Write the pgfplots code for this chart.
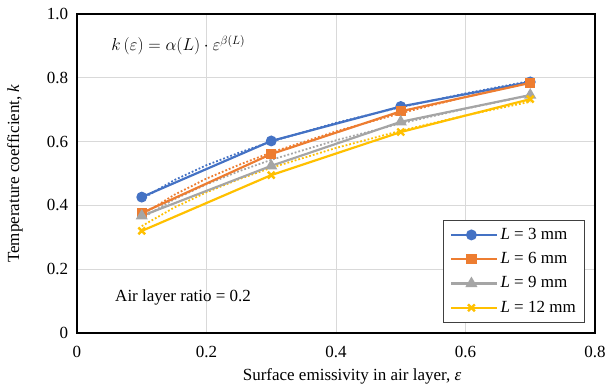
\documentclass[border=0pt]{standalone}
\usepackage{pgfplots}
\pgfplotsset{compat=1.18}
\usepackage{fontspec}
\setmainfont{Liberation Serif}
\definecolor{cblue}{HTML}{4472C4}
\definecolor{corange}{HTML}{ED7D31}
\definecolor{cgray}{HTML}{A5A5A5}
\definecolor{cyellow}{HTML}{FFC000}
\begin{document}
\fontsize{17bp}{20bp}\selectfont
\begin{tikzpicture}
\useasboundingbox (-77bp,-51bp) rectangle (528bp,333bp);
\begin{axis}[
  at={(0bp,0bp)}, anchor=south west,
  scale only axis, width=518bp, height=319bp,
  xmin=0, xmax=0.8, ymin=0, ymax=1,
  xtick={0,0.2,0.4,0.6,0.8}, xticklabels={0,0.2,0.4,0.6,0.8},
  ytick={0,0.2,0.4,0.6,0.8,1.0}, yticklabels={0,0.2,0.4,0.6,0.8,1.0},
  major tick length=0pt,
  grid=major, grid style={draw=black!15, line width=0.8bp},
  axis line style={line width=1.4bp, black},
  tick label style={font=\fontsize{17bp}{20bp}\selectfont},
  xticklabel style={yshift=-7bp},
  yticklabel style={xshift=-3bp},
  xlabel={Surface emissivity in air layer, \textit{ε}},
  ylabel={Temperature coefficient, \textit{k}},
  xlabel style={at={(axis description cs:0.531,-0.135)}, anchor=center},
  ylabel style={at={(axis description cs:-0.12,0.5)}, anchor=center, rotate=0},
  label style={font=\fontsize{17bp}{20bp}\selectfont},
  legend style={at={(0.981,0.031)}, anchor=south east, draw=black!75, line width=0.8bp,
    font=\fontsize{17bp}{20bp}\selectfont, row sep=6.5bp, inner xsep=7bp, inner ysep=6bp,
    cells={anchor=west}},
  legend image code/.code={\draw[mark repeat=2,mark phase=2,#1] plot coordinates {(0bp,0bp)(20bp,0bp)(40bp,0bp)}; \path (0bp,0bp) -- (46bp,0bp);},
]
% fitted curves (dotted)
\addplot[cblue, dotted, line width=1.8bp, forget plot] coordinates {(0.1,0.420)(0.15,0.479)(0.2,0.526)(0.25,0.565)(0.3,0.600)(0.4,0.659)(0.5,0.708)(0.6,0.751)(0.7,0.790)};
\addplot[corange, dotted, line width=1.8bp, forget plot] coordinates {(0.1,0.370)(0.15,0.433)(0.2,0.484)(0.25,0.527)(0.3,0.566)(0.4,0.632)(0.5,0.689)(0.6,0.740)(0.7,0.785)};
\addplot[cgray, dotted, line width=1.8bp, forget plot] coordinates {(0.1,0.360)(0.15,0.419)(0.2,0.466)(0.25,0.507)(0.3,0.543)(0.4,0.604)(0.5,0.657)(0.6,0.703)(0.7,0.745)};
\addplot[cyellow, dotted, line width=1.8bp, forget plot] coordinates {(0.1,0.335)(0.15,0.393)(0.2,0.441)(0.25,0.482)(0.3,0.518)(0.4,0.580)(0.5,0.634)(0.6,0.682)(0.7,0.725)};
% measured
\addplot[cblue, line width=2.2bp, mark=*, mark size=4.3bp] coordinates {(0.1,0.426)(0.3,0.602)(0.5,0.710)(0.7,0.787)};
\addlegendentry{\textit{L} = 3 mm}
\addplot[corange, line width=2.2bp, mark=square*, mark size=4bp] coordinates {(0.1,0.376)(0.3,0.561)(0.5,0.695)(0.7,0.784)};
\addlegendentry{\textit{L} = 6 mm}
\addplot[cgray, line width=2.2bp, mark=triangle*, mark size=4.8bp] coordinates {(0.1,0.367)(0.3,0.524)(0.5,0.662)(0.7,0.746)};
\addlegendentry{\textit{L} = 9 mm}
\addplot[cyellow, line width=2.2bp, mark=x, mark size=4.8bp, mark options={line width=2.4bp}] coordinates {(0.1,0.320)(0.3,0.495)(0.5,0.630)(0.7,0.733)};
\addlegendentry{\textit{L} = 12 mm}
\node[anchor=west] at (axis cs:0.044,0.903) {$k\left(\varepsilon\right)=\alpha(L)\cdot\varepsilon^{\beta(L)}$};
\node[anchor=west] at (axis cs:0.050,0.11) {Air layer ratio = 0.2};
\end{axis}
\end{tikzpicture}
\end{document}
